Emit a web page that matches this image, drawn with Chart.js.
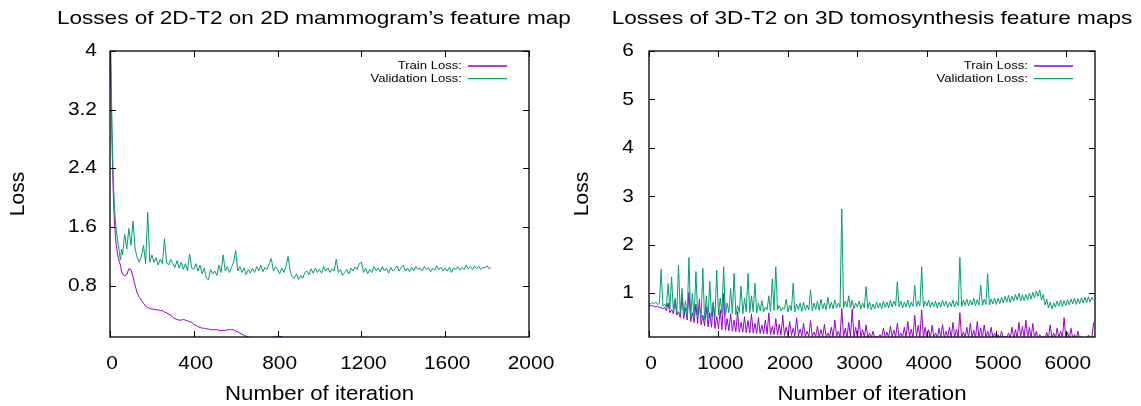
<!DOCTYPE html>
<html>
<head>
<meta charset="utf-8">
<script src="https://cdn.jsdelivr.net/npm/chart.js@4.4.0/dist/chart.umd.min.js"></script>
<style>
html, body { margin: 0; padding: 0; background: #fff; }
#wrap { position: relative; width: 1141px; height: 406px; overflow: hidden; }
.panel { position: absolute; top: 0; height: 406px; }
#p1 { left: 0; width: 570px; }
#p2 { left: 570px; width: 571px; }
</style>
</head>
<body>
<div id="wrap">
  <div class="panel" id="p1"><canvas id="c1" width="570" height="406"></canvas></div>
  <div class="panel" id="p2"><canvas id="c2" width="571" height="406"></canvas></div>
</div>
<script>
// ---- left panel: 2D-T2 ----
const iter2D = [0,5,10,15,20,25,30,35,40,45,50,55,60,
  70,80,90,100,110,120,130,140,150,160,170,180,190,
  200,210,220,230,240,250,260,270,280,290,300,310,320,330,340,350,360,370,380,390,
  400,410,420,430,440,450,460,470,480,490,500,510,520,530,540,550,560,570,580,590,
  600,610,620,630,640,650,660,670,680,690,700,710,720,730,740,750,760,770,780,790,
  800,810,820,830,840,850,860,870,880,890,900,910,920,930,940,950,960,970,980,990,
  1000,1010,1020,1030,1040,1050,1060,1070,1080,1090,1100,1110,1120,1130,1140,1150,1160,1170,1180,1190,
  1200,1210,1220,1230,1240,1250,1260,1270,1280,1290,1300,1310,1320,1330,1340,1350,1360,1370,1380,1390,
  1400,1410,1420,1430,1440,1450,1460,1470,1480,1490,1500,1510,1520,1530,1540,1550,1560,1570,1580,1590,
  1600,1610,1620,1630,1640,1650,1660,1670,1680,1690,1700,1710,1720,1730,1740,1750,1760,1770,1780,1790,
  1800,1810,1820];
const train2D = [4.6,3.5,2.7,2.1,1.75,1.5,1.35,1.25,1.18,1.12,1.08,1.0,0.96,
  0.93,0.95,1.03,1.02,0.92,0.8,0.7,0.64,0.6,0.56,0.52,0.5,0.49,
  0.48,0.48,0.47,0.47,0.46,0.46,0.44,0.43,0.41,0.4,0.37,0.35,0.34,0.33,0.33,0.34,0.33,0.32,0.31,0.3,
  0.27,0.26,0.24,0.23,0.22,0.22,0.21,0.21,0.2,0.2,0.2,0.2,0.19,0.19,0.19,0.19,0.2,0.2,0.2,0.2,
  0.18,0.17,0.15,0.14,0.12,0.11,0.1,0.09,0.08,0.08,0.07,0.07,0.07,0.07,0.08,0.08,0.09,0.09,0.1,0.1,
  0.1,0.11,0.1,0.09,0.08,0.08,0.07,0.07,0.06,0.06,0.06,0.06,0.06,0.05,0.06,0.05,0.05,0.05,0.05,0.05,
  0.05,0.05,0.04,0.05,0.04,0.04,0.04,0.04,0.04,0.04,0.04,0.04,0.04,0.03,0.04,0.03,0.04,0.03,0.03,0.03,
  0.03,0.03,0.03,0.03,0.03,0.03,0.03,0.03,0.03,0.03,0.03,0.03,0.03,0.03,0.03,0.03,0.03,0.03,0.03,0.03,
  0.03,0.03,0.03,0.03,0.03,0.02,0.03,0.02,0.03,0.02,0.02,0.02,0.02,0.02,0.02,0.02,0.02,0.02,0.02,0.02,
  0.02,0.02,0.02,0.02,0.02,0.02,0.02,0.02,0.02,0.02,0.02,0.02,0.02,0.02,0.02,0.02,0.02,0.02,0.02,0.02,
  0.02,0.02,0.02];
const val2D = [4.6,3.7,2.9,2.3,1.95,1.7,1.55,1.45,1.35,1.25,1.15,1.3,1.22,
  1.5,1.3,1.58,1.35,1.68,1.3,1.18,1.12,1.2,1.35,1.1,1.8,1.12,
  1.22,1.12,1.18,1.08,1.16,1.1,1.44,1.12,1.08,1.16,1.1,1.05,1.14,1.04,1.12,1.02,1.1,1.0,1.23,1.04,
  1.02,1.1,1.0,1.08,0.96,1.04,0.9,0.88,1.02,0.96,1.0,0.94,1.08,0.98,1.22,1.0,1.06,0.98,1.05,1.12,
  1.28,1.0,1.06,0.98,1.04,0.95,1.02,0.97,1.04,0.98,1.06,1.0,1.08,0.99,1.05,1.02,1.1,1.17,1.0,1.06,
  1.02,0.96,1.04,0.98,1.06,1.2,1.0,0.92,0.9,0.96,0.88,0.94,0.9,0.98,1.0,0.95,1.03,0.97,1.04,0.98,
  1.02,0.97,1.06,1.0,1.04,0.98,1.03,1.0,1.16,0.98,1.02,0.94,0.98,1.02,0.96,1.04,1.0,1.06,1.02,1.1,
  1.12,0.98,1.04,0.96,1.02,0.98,1.06,1.0,1.04,0.99,1.06,1.0,1.04,0.97,1.05,1.0,1.03,1.07,1.0,1.05,
  1.08,1.0,1.04,0.99,1.05,1.0,1.06,1.02,1.04,1.0,1.06,1.02,1.05,0.99,1.04,1.01,1.07,1.02,1.05,1.0,
  1.04,1.0,1.05,0.98,1.04,1.02,1.06,1.01,1.05,1.02,1.08,1.03,1.06,1.02,1.07,1.03,1.06,1.02,1.05,1.04,
  1.07,1.03,1.05];
const xTicks2D = [0, 400, 800, 1200, 1600, 2000];
const yTicks2D = [0.8, 1.6, 2.4, 3.2, 4];

// ---- right panel: 3D-T2 ----
const iter3D = [0,25,50,75,100,125,150,175,200,225,250,275,300,325,350,375,400,425,450,475,
  500,525,550,575,600,625,650,675,700,725,750,775,800,825,850,875,900,925,950,975,
  1000,1025,1050,1075,1100,1125,1150,1175,1200,1225,1250,1275,1300,1325,1350,1375,1400,1425,1450,1475,
  1500,1525,1550,1575,1600,1625,1650,1675,1700,1725,1750,1775,1800,1825,1850,1875,1900,1925,1950,1975,
  2000,2025,2050,2075,2100,2125,2150,2175,2200,2225,2250,2275,2300,2325,2350,2375,2400,2425,2450,2475,
  2500,2525,2550,2575,2600,2625,2650,2675,2700,2725,2750,2775,2800,2825,2850,2875,2900,2925,2950,2975,
  3000,3025,3050,3075,3100,3125,3150,3175,3200,3225,3250,3275,3300,3325,3350,3375,3400,3425,3450,3475,
  3500,3525,3550,3575,3600,3625,3650,3675,3700,3725,3750,3775,3800,3825,3850,3875,3900,3925,3950,3975,
  4000,4025,4050,4075,4100,4125,4150,4175,4200,4225,4250,4275,4300,4325,4350,4375,4400,4425,4450,4475,
  4500,4525,4550,4575,4600,4625,4650,4675,4700,4725,4750,4775,4800,4825,4850,4875,4900,4925,4950,4975,
  5000,5025,5050,5075,5100,5125,5150,5175,5200,5225,5250,5275,5300,5325,5350,5375,5400,5425,5450,5475,
  5500,5525,5550,5575,5600,5625,5650,5675,5700,5725,5750,5775,5800,5825,5850,5875,5900,5925,5950,5975,
  6000,6025,6050,6075,6100,6125,6150,6175,6200,6225,6250,6275,6300,6325,6350,6375,6400];
const train3D = [0.75,0.74,0.75,0.73,0.72,0.74,0.70,0.71,0.68,0.72,0.64,0.80,0.60,0.66,0.58,0.85,0.55,0.62,0.50,0.95,
  0.48,0.70,0.45,1.02,0.42,0.60,0.40,0.78,0.38,0.88,0.35,0.55,0.33,0.72,0.31,0.60,0.30,0.82,0.28,0.52,
  0.27,0.66,0.25,1.00,0.24,0.48,0.23,0.58,0.22,0.45,0.21,0.62,0.20,0.40,0.20,0.52,0.19,0.44,0.18,0.58,
  0.18,0.38,0.17,0.50,0.17,0.35,0.16,0.45,0.16,0.60,0.15,0.32,0.15,0.48,0.14,0.36,0.14,0.55,0.13,0.30,
  0.13,0.42,0.13,0.28,0.12,0.50,0.12,0.26,0.12,0.38,0.11,0.22,0.11,0.44,0.11,0.20,0.11,0.32,0.10,0.25,
  0.10,0.36,0.10,0.18,0.10,0.30,0.10,0.45,0.10,0.22,0.10,0.69,0.10,0.28,0.09,0.40,0.10,0.68,0.09,0.30,
  0.10,0.45,0.09,0.25,0.10,0.35,0.09,0.18,0.08,0.22,0.08,0.12,0.07,0.15,0.08,0.28,0.09,0.20,0.09,0.32,
  0.10,0.24,0.10,0.38,0.09,0.18,0.10,0.30,0.09,0.42,0.10,0.26,0.09,0.55,0.10,0.34,0.10,0.66,0.09,0.30,
  0.09,0.25,0.08,0.34,0.09,0.18,0.08,0.28,0.09,0.36,0.08,0.22,0.09,0.30,0.08,0.40,0.09,0.26,0.09,0.60,
  0.08,0.20,0.09,0.30,0.08,0.38,0.09,0.24,0.08,0.42,0.09,0.28,0.08,0.35,0.09,0.22,0.08,0.30,0.08,0.18,
  0.07,0.15,0.07,0.22,0.06,0.12,0.07,0.18,0.07,0.30,0.08,0.25,0.08,0.40,0.09,0.32,0.09,0.45,0.08,0.30,
  0.08,0.38,0.07,0.22,0.06,0.15,0.06,0.12,0.05,0.20,0.06,0.35,0.07,0.18,0.07,0.28,0.08,0.22,0.08,0.50,
  0.07,0.20,0.07,0.28,0.06,0.15,0.06,0.22,0.05,0.12,0.06,0.10,0.06,0.14,0.06,0.08,0.40];
const val3D = [0.80,0.78,0.81,0.79,0.82,0.77,0.80,1.50,0.74,0.78,0.72,1.20,0.68,1.34,0.64,0.90,0.60,1.58,0.58,1.10,
  0.55,0.85,0.52,1.74,0.50,1.00,0.48,1.45,0.55,0.72,0.50,1.52,0.45,0.95,0.48,1.25,0.52,0.80,0.50,1.48,
  0.55,0.90,0.58,1.55,0.55,0.80,0.60,1.10,0.58,1.41,0.56,0.75,0.60,1.15,0.58,0.90,0.62,1.41,0.60,0.95,
  0.62,1.21,0.60,0.80,0.64,0.85,0.62,0.72,0.66,0.95,0.63,1.30,0.65,1.55,0.66,0.75,0.64,0.70,0.68,0.88,
  0.62,0.76,0.64,1.21,0.62,0.78,0.66,0.80,0.63,0.82,0.65,0.76,0.66,1.07,0.64,0.80,0.67,0.84,0.66,0.88,
  0.68,0.80,0.66,0.92,0.69,0.82,0.68,0.86,0.70,0.80,0.71,2.74,0.70,0.84,0.72,0.95,0.70,0.86,0.68,0.80,
  0.72,0.84,0.68,0.80,0.70,1.14,0.69,0.82,0.66,0.78,0.68,0.82,0.70,0.80,0.68,0.84,0.71,0.82,0.70,0.86,
  0.72,0.84,0.74,1.24,0.72,0.84,0.70,0.82,0.72,0.86,0.71,0.82,0.73,1.17,0.72,0.84,0.74,1.55,0.71,0.84,
  0.74,0.86,0.71,0.82,0.73,0.84,0.70,0.82,0.72,0.86,0.74,0.84,0.71,0.82,0.73,0.86,0.72,0.84,0.74,1.74,
  0.73,0.86,0.75,0.88,0.74,0.86,0.76,0.90,0.75,0.87,0.76,1.17,0.75,0.88,0.77,1.41,0.76,0.88,0.78,0.90,
  0.77,0.90,0.79,0.92,0.80,0.94,0.82,0.96,0.81,0.94,0.84,0.98,0.86,1.00,0.84,0.97,0.85,0.98,0.86,1.00,
  0.88,1.02,0.91,1.05,0.94,1.07,0.86,0.98,0.76,0.88,0.70,0.82,0.68,0.80,0.72,0.84,0.74,0.86,0.73,0.85,
  0.75,0.87,0.76,0.88,0.78,0.90,0.77,0.89,0.79,0.91,0.80,0.92,0.81,0.93,0.82,0.92,0.86];
const xTicks3D = [0, 1000, 2000, 3000, 4000, 5000, 6000];
const yTicks3D = [1, 2, 3, 4, 5, 6];

const PURPLE = '#9400d3';
const GREEN = '#009e73';
const FONT = '"Liberation Sans", Arial, Helvetica, sans-serif';

// text drawn a bit wider than tall, like the original
function drawText(ctx, str, x, y, size, sx, align, base) {
    ctx.save();
    ctx.font = size + 'px ' + FONT;
    ctx.fillStyle = '#000';
    ctx.textAlign = align;
    ctx.textBaseline = base;
    ctx.translate(x, y);
    ctx.scale(sx, 1);
    ctx.fillText(str, 0, 0);
    ctx.restore();
}

// frame, inward ticks, labels, title and legend in gnuplot style
const gnuplotLook = {
    id: 'gnuplotLook',
    afterDatasetsDraw(chart, args, o) {
        const { ctx, chartArea: a, scales: { x, y } } = chart;
        ctx.save();
        ctx.strokeStyle = '#000';
        ctx.lineWidth = 1;
        ctx.beginPath();
        x.ticks.forEach(t => {
            const px = Math.round(x.getPixelForValue(t.value)) + 0.5;
            ctx.moveTo(px, a.bottom); ctx.lineTo(px, a.bottom - 6);
            ctx.moveTo(px, a.top); ctx.lineTo(px, a.top + 6);
        });
        y.ticks.forEach(t => {
            const py = Math.round(y.getPixelForValue(t.value)) + 0.5;
            ctx.moveTo(a.left, py); ctx.lineTo(a.left + 6, py);
            ctx.moveTo(a.right, py); ctx.lineTo(a.right - 6, py);
        });
        ctx.stroke();
        ctx.lineWidth = 1.3;
        ctx.strokeRect(a.left, a.top, a.right - a.left, a.bottom - a.top);
        ctx.restore();
    },
    afterDraw(chart, args, o) {
        const { ctx, chartArea: a, scales: { x, y } } = chart;
        const cx = (a.left + a.right) / 2;
        const cy = (a.top + a.bottom) / 2;

        // tick labels
        x.ticks.forEach(t => {
            drawText(ctx, String(t.value), x.getPixelForValue(t.value) + 2, a.bottom + 27, 18.5, 1.13, 'center', 'middle');
        });
        y.ticks.forEach(t => {
            drawText(ctx, String(t.value), a.left - o.yLabelGap, y.getPixelForValue(t.value), 18.5, 1.13, 'right', 'middle');
        });

        // titles
        drawText(ctx, o.title, cx, 24, 18.5, 1.22, 'center', 'alphabetic');
        drawText(ctx, 'Number of iteration', cx, 400, 19.5, 1.14, 'center', 'alphabetic');
        ctx.save();
        ctx.font = '21px ' + FONT;
        ctx.fillStyle = '#000';
        ctx.textAlign = 'center';
        ctx.textBaseline = 'middle';
        ctx.translate(o.yTitleX, cy);
        ctx.rotate(-Math.PI / 2);
        ctx.fillText('Loss', 0, 0);
        ctx.restore();

        // legend
        chart.data.datasets.slice().sort((p, q) => q.order - p.order).forEach((ds, i) => {
            const ly = a.top + 15 + i * 12.7;
            drawText(ctx, ds.label, a.right - 67, ly, 11.3, 1.16, 'right', 'middle');
            ctx.save();
            ctx.strokeStyle = ds.borderColor;
            ctx.lineWidth = 1.3;
            ctx.beginPath();
            ctx.moveTo(a.right - 61, ly);
            ctx.lineTo(a.right - 22, ly);
            ctx.stroke();
            ctx.restore();
        });
    }
};

function makeChart(id, xs, train, val, xMax, yMin, yMax, xTicks, yTicks, look, yAxisWidth, padRight) {
    const toPoints = (arr) => arr.map((v, i) => ({ x: xs[i], y: v }));
    return new Chart(document.getElementById(id), {
        type: 'line',
        data: {
            datasets: [
                { label: 'Train Loss:', data: toPoints(train), borderColor: PURPLE, borderWidth: 1, pointRadius: 0, order: 1, clip: 0 },
                { label: 'Validation Loss:', data: toPoints(val), borderColor: GREEN, borderWidth: 1, pointRadius: 0, order: 0, clip: 0 }
            ]
        },
        options: {
            responsive: false,
            animation: false,
            devicePixelRatio: 1,
            layout: { padding: { top: 51, right: padRight, left: 0, bottom: 0 } },
            plugins: { legend: { display: false }, tooltip: { enabled: false }, gnuplotLook: look },
            scales: {
                x: {
                    type: 'linear', min: 0, max: xMax,
                    grid: { display: false }, border: { display: false },
                    ticks: { display: false },
                    afterBuildTicks: (s) => { s.ticks = xTicks.map(v => ({ value: v })); },
                    afterFit: (s) => { s.height = 69; }
                },
                y: {
                    type: 'linear', min: yMin, max: yMax,
                    grid: { display: false }, border: { display: false },
                    ticks: { display: false },
                    afterBuildTicks: (s) => { s.ticks = yTicks.map(v => ({ value: v })); },
                    afterFit: (s) => { s.width = yAxisWidth; }
                }
            }
        },
        plugins: [gnuplotLook]
    });
}

makeChart('c1', iter2D, train2D, val2D, 2000, 0.1, 4, xTicks2D, yTicks2D,
    { title: 'Losses of 2D-T2 on 2D mammogram\u2019s feature maps', yTitleX: 18, yLabelGap: 13 }, 110, 41);
makeChart('c2', iter3D, train3D, val3D, 6420, 0.1, 6, xTicks3D, yTicks3D,
    { title: 'Losses of 3D-T2 on 3D tomosynthesis feature maps', yTitleX: 12.6, yLabelGap: 15 }, 79, 46);
</script>
</body>
</html>
